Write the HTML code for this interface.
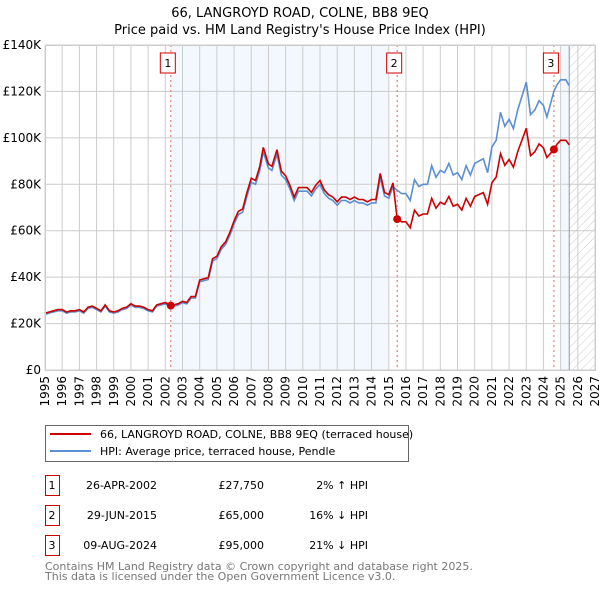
<!DOCTYPE html>
<html><head><meta charset="utf-8"><style>
body{margin:0;background:#fff;font-family:"DejaVu Sans","Liberation Sans",sans-serif;}
svg text{font-family:"DejaVu Sans","Liberation Sans",sans-serif;}
</style></head><body>
<svg id="chart" width="600" height="590" viewBox="0 0 600 590" xmlns="http://www.w3.org/2000/svg">
<defs><pattern id="hatch" width="6" height="6" patternUnits="userSpaceOnUse" patternTransform="rotate(45)"><line x1="0" y1="0" x2="0" y2="6" stroke="#ccc" stroke-width="1"/></pattern></defs>
<text x="300" y="17" text-anchor="middle" font-size="13">66, LANGROYD ROAD, COLNE, BB8 9EQ</text>
<text x="300" y="34" text-anchor="middle" font-size="13">Price paid vs. HM Land Registry's House Price Index (HPI)</text>
<g id="bg"></g><g id="grid"></g><g id="marks"></g><g id="axes"></g>
<g>
<rect x="45.5" y="425.5" width="363" height="36" fill="#fff" stroke="#666"/>
<line x1="50" y1="434" x2="91" y2="434" stroke="#cc0000" stroke-width="2"/>
<text x="100" y="438" font-size="11">66, LANGROYD ROAD, COLNE, BB8 9EQ (terraced house)</text>
<line x1="50" y1="451" x2="91" y2="451" stroke="#5b8fd1" stroke-width="2"/>
<text x="100" y="455" font-size="11">HPI: Average price, terraced house, Pendle</text>
</g>
<g id="table" font-size="11"></g>
<text x="45" y="570" font-size="11" fill="#777">Contains HM Land Registry data © Crown copyright and database right 2025.</text>
<text x="45" y="580" font-size="11" fill="#777">This data is licensed under the Open Government Licence v3.0.</text>
</svg>
<script>
const hpiYears=[1995,1995.25,1995.5,1995.75,1996,1996.25,1996.5,1996.75,1997,1997.25,1997.5,1997.75,1998,1998.25,1998.5,1998.75,1999,1999.25,1999.5,1999.75,2000,2000.25,2000.5,2000.75,2001,2001.25,2001.5,2001.75,2002,2002.32,2002.5,2002.75,2003,2003.25,2003.5,2003.75,2004,2004.25,2004.5,2004.75,2005,2005.25,2005.5,2005.75,2006,2006.25,2006.5,2006.75,2007,2007.25,2007.5,2007.7,2008,2008.2,2008.5,2008.75,2009,2009.25,2009.5,2009.75,2010,2010.25,2010.5,2010.75,2011,2011.25,2011.5,2011.75,2012,2012.25,2012.5,2012.75,2013,2013.25,2013.5,2013.75,2014,2014.25,2014.5,2014.75,2015,2015.25,2015.49,2015.75,2016,2016.25,2016.5,2016.75,2017,2017.25,2017.5,2017.75,2018,2018.25,2018.5,2018.75,2019,2019.25,2019.5,2019.75,2020,2020.25,2020.5,2020.75,2021,2021.25,2021.5,2021.75,2022,2022.25,2022.5,2022.75,2023,2023.25,2023.5,2023.75,2024,2024.2,2024.61,2024.8,2025,2025.3,2025.5];
const hpiValues=[24,24.5,25,25.5,25.5,24.5,25,25,25.5,24.5,26.5,27,26,25,27.5,25,24.5,25,26,26.5,28,27,27,26.5,25.5,25,27.5,28,28.5,27.2,27.5,28,29,28.5,31,31,38,38.5,39,47,48,52,54,58,63,67,68,75,81,80,86,94,87,86,93,84,82,78,73,77,77,77,75,78,80,76,74,73,71,73,73,72,73,72,72,71,72,72,83,75,74,79,77.4,76,76,73,82,79,80,80,88,83,86,85,89,84,85,82,88,84,89,90,91,85,96,99,111,105,108,104,112,118,124,110,112,116,114,109,120,123,125,125,122.5];
const saleYears=[2002.32,2015.49,2024.61];
const salePrices=[27.75,65,95];
const saleLabels=["1","2","3"];
const saleDates=["26-APR-2002","29-JUN-2015","09-AUG-2024"];
const salePriceText=["£27,750","£65,000","£95,000"];
const saleHpiText=["2% ↑ HPI","16% ↓ HPI","21% ↓ HPI"];
const yTicks=[0,20,40,60,80,100,120,140];
const yTickLabels=["£0","£20K","£40K","£60K","£80K","£100K","£120K","£140K"];
const xTicks=[1995,1996,1997,1998,1999,2000,2001,2002,2003,2004,2005,2006,2007,2008,2009,2010,2011,2012,2013,2014,2015,2016,2017,2018,2019,2020,2021,2022,2023,2024,2025,2026,2027];
const X0=45,X1=595,Y0=370,Y1=45;
const xs=y=>X0+(y-1995)/(2027-1995)*(X1-X0);
const ys=v=>Y0-v/140*(Y0-Y1);
const NS="http://www.w3.org/2000/svg";
function mk(tag,attrs,parent){const e=document.createElementNS(NS,tag);for(const k in attrs)e.setAttribute(k,attrs[k]);parent.appendChild(e);return e;}
const bg=document.getElementById('bg'),grid=document.getElementById('grid'),marks=document.getElementById('marks'),axes=document.getElementById('axes'),table=document.getElementById('table');
let r=mk('rect',{x:xs(saleYears[0]),y:Y1,width:xs(2015)-xs(saleYears[0]),height:Y0-Y1,fill:'#eef3fd',opacity:0.7},bg);


r=mk('rect',{x:xs(2025),y:Y1,width:xs(2025.5)-xs(2025),height:Y0-Y1,fill:'#eef3fd',opacity:0.7},bg);


r=mk('rect',{x:xs(2025.5),y:Y1,width:X1-xs(2025.5),height:Y0-Y1,fill:'url(#hatch)'},bg);


xTicks.forEach(t=>{const l=mk('line',{x1:xs(t),x2:xs(t),y1:Y1,y2:Y0,stroke:'#ccc','stroke-width':1},grid);


const tx=mk('text',{x:0,y:0,'font-size':12,'text-anchor':'end',transform:`translate(${xs(t)+4},${Y0+6}) rotate(-90)`},axes);tx.textContent=t;

});
yTicks.forEach((t,i)=>{const l=mk('line',{x1:X0,x2:X1,y1:ys(t),y2:ys(t),stroke:'#ccc','stroke-width':1},grid);


const tx=mk('text',{x:X0-4,y:ys(t)+4,'font-size':12,'text-anchor':'end'},axes);tx.textContent=yTickLabels[i];

});
const lv=mk('line',{x1:xs(2025.5),x2:xs(2025.5),y1:Y1,y2:Y0,stroke:'#8899aa','stroke-width':1},grid);


function hpiAt(y){for(let i=1;i<hpiYears.length;i++){if(hpiYears[i]>=y){const a=hpiYears[i-1],b=hpiYears[i];return hpiValues[i-1]+(hpiValues[i]-hpiValues[i-1])*(y-a)/(b-a);}}return hpiValues[hpiValues.length-1];}
const ratios=saleYears.map((y,i)=>salePrices[i]/hpiAt(y));
let hp='';hpiYears.forEach((y,i)=>{hp+=(i?'L':'M')+xs(y).toFixed(1)+','+ys(hpiValues[i]).toFixed(1);});
const hl=mk('path',{d:hp,fill:'none',stroke:'#5b8fd1','stroke-width':1.6},marks);


let rp='';hpiYears.forEach((y,i)=>{let k=0;for(let j=0;j<saleYears.length;j++)if(y>=saleYears[j]-1e-6)k=j;rp+=(i?'L':'M')+xs(y).toFixed(1)+','+ys(hpiValues[i]*ratios[k]).toFixed(1);});
const pl=mk('path',{d:rp,fill:'none',stroke:'#cc0000','stroke-width':1.6},marks);


saleYears.forEach((y,i)=>{const vl=mk('line',{x1:xs(y),x2:xs(y),y1:Y1,y2:Y0,stroke:'#e06666','stroke-width':1,'stroke-dasharray':'2,3'},marks);


const c=mk('circle',{cx:xs(y),cy:ys(salePrices[i]),r:4,fill:'#cc0000'},marks);


const b=mk('rect',{x:xs(y)-10.5,y:53,width:15,height:20,fill:'#fff',stroke:'#cc0000'},marks);


const t=mk('text',{x:xs(y)-3,y:67,'font-size':11,'text-anchor':'middle'},marks);t.textContent=saleLabels[i];


const ry=475+i*30;
const tb=mk('rect',{x:45.5,y:ry+0.5,width:14,height:20,fill:'#fff',stroke:'#cc0000'},table);


const cells=[[52,saleLabels[i],'middle'],[157,saleDates[i],'end'],[264,salePriceText[i],'end'],[368,saleHpiText[i],'end']];
cells.forEach(cl=>{const e=mk('text',{x:cl[0],y:ry+14,'text-anchor':cl[2]},table);e.textContent=cl[1];

});});
const fr=mk('rect',{x:X0+0.5,y:Y1+0.5,width:X1-X0,height:Y0-Y1,fill:'none',stroke:'#ccc'},axes);


</script>
</body></html>
